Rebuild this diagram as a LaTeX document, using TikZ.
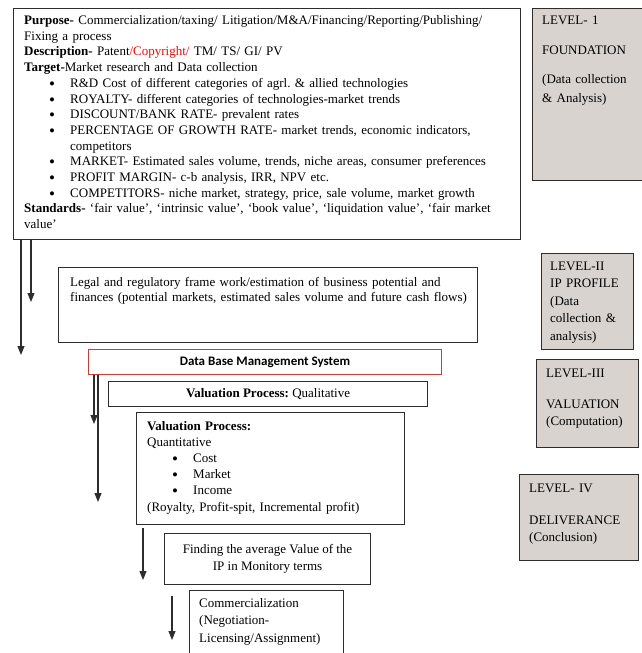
\documentclass[tikz,border=0pt]{standalone}
\usepackage{fontspec}
\setmainfont{Liberation Serif}
\newfontfamily\dbfont{Carlito}
\usetikzlibrary{arrows.meta}
\frenchspacing

\definecolor{lvlgray}{RGB}{216,211,207}
\definecolor{boxline}{RGB}{45,45,45}
\definecolor{dbred}{RGB}{226,52,44}

\tikzset{
  frame/.style={draw=boxline, line width=1.1pt, anchor=north west, inner sep=0pt},
  lvlbox/.style={frame, fill=lvlgray, line width=1.3pt},
  txt/.style={anchor=base west, inner sep=0pt, align=left, font=\fontsize{13}{15.7}\selectfont},
  flow/.style={-{Triangle[length=9pt,width=7pt]}, line width=1.1pt, draw=boxline}
}
\newcommand\itm[1]{\hspace*{25pt}\makebox[21pt][l]{\raisebox{-2pt}{\fontsize{17}{0}\selectfont\textbullet}}#1}

\begin{document}
\begin{tikzpicture}[x=1pt,y=-1pt]
\path[use as bounding box, fill=white] (0,0) rectangle (642,653);

% level I block
\node[frame, minimum width=507pt, minimum height=231pt] (found) at (13,8) {};
\node[txt, text width=500pt] (foundtxt) at (24,24.5) {%
\textbf{Purpose-} Commercialization/taxing/ Litigation/M\&A/Financing/Reporting/Publishing/\\
Fixing a process\\
\textbf{Description-} Patent\textcolor{red}{/Copyright/} TM/ TS/ GI/ PV\\
\textbf{Target-}Market research and Data collection\\
\itm{R\&D Cost of different categories of agrl. \& allied technologies}\\
\itm{ROYALTY- different categories of technologies-market trends}\\
\itm{DISCOUNT/BANK RATE- prevalent rates}\\
\itm{PERCENTAGE OF GROWTH RATE- market trends, economic indicators,}\\
\hspace*{46pt}competitors\\
\itm{MARKET- Estimated sales volume, trends, niche areas, consumer preferences}\\
\itm{PROFIT MARGIN- c-b analysis, IRR, NPV etc.}\\
\itm{COMPETITORS- niche market, strategy, price, sale volume, market growth}\\
\textbf{Standards-} `fair value', `intrinsic value', `book value', `liquidation value', `fair market\\
value'};

% level II block
\node[frame, minimum width=419pt, minimum height=75pt] (legal) at (58,267) {};
\node[txt, text width=410pt] (legaltxt) at (70,286) {%
Legal and regulatory frame work/estimation of business potential and\\
finances (potential markets, estimated sales volume and future cash flows)};

% level III block
\node[frame, draw=dbred, line width=1pt, minimum width=353pt, minimum height=25pt,
  font=\dbfont\bfseries\fontsize{13}{15}\selectfont] (dbms) at (88,349) {Data Base Management System};
\node[frame, minimum width=319pt, minimum height=25pt,
  font=\fontsize{13}{15.7}\selectfont] (qual) at (108,381) {\textbf{Valuation Process:} Qualitative};
\node[frame, minimum width=268pt, minimum height=112pt] (quant) at (136,412) {};
\node[txt, text width=255pt, font=\fontsize{13}{16.2}\selectfont] (quanttxt) at (147,430) {%
\textbf{Valuation Process:}\\
Quantitative\\
\itm{Cost}\\
\itm{Market}\\
\itm{Income}\\
(Royalty, Profit-spit, Incremental profit)};

% level IV block
\node[frame, minimum width=206pt, minimum height=51pt, align=center,
  font=\fontsize{13}{17}\selectfont] (avg) at (164,533) {Finding the average Value of the\\ IP in Monitory terms};
\node[frame, minimum width=154pt, minimum height=70pt] (comm) at (189,590) {};
\node[txt, text width=150pt, font=\fontsize{13}{17.5}\selectfont] (commtxt) at (199,607) {%
Commercialization\\
(Negotiation-\\
Licensing/Assignment)};

% level labels
\node[lvlbox, minimum width=115pt, minimum height=172pt] (lvl1) at (532,8) {};
\node[txt, text width=100pt, font=\fontsize{13}{19}\selectfont] (lvl1txt) at (542,24) {%
LEVEL- 1\\[11pt]
FOUNDATION\\[10pt]
(Data collection\\
\& Analysis)};
\node[lvlbox, minimum width=92pt, minimum height=96pt] (lvl2) at (541,253) {};
\node[txt, text width=80pt, font=\fontsize{13}{17.5}\selectfont] (lvl2txt) at (550,270) {%
LEVEL-II\\
IP PROFILE\\
(Data\\
collection \&\\
analysis)};
\node[lvlbox, minimum width=102pt, minimum height=88pt] (lvl3) at (536,359) {};
\node[txt, text width=90pt, font=\fontsize{13}{17}\selectfont] (lvl3txt) at (546,377) {%
LEVEL-III\\[14pt]
VALUATION\\
(Computation)};
\node[lvlbox, minimum width=119pt, minimum height=86pt] (lvl4) at (519,474) {};
\node[txt, text width=105pt, font=\fontsize{13}{17}\selectfont] (lvl4txt) at (529,492) {%
LEVEL- IV\\[15pt]
DELIVERANCE\\
(Conclusion)};

% arrow ends
\coordinate (t1) at (31,302);
\coordinate (t2) at (21,355);
\coordinate (d1) at (94,424);
\coordinate (d2) at (98,502);
\coordinate (q1) at (143,580);
\coordinate (f1) at (172,640);

\draw[flow] (found.south -| t1) -- (t1);
\draw[flow] (found.south -| t2) -- (t2);
\draw[flow] (dbms.south -| d1) -- (d1);
\draw[flow] (dbms.south -| d2) -- (d2);
\draw[flow, shorten <=3pt] (quant.south -| q1) -- (q1);
\draw[flow, shorten <=11pt] (avg.south -| f1) -- (f1);
\end{tikzpicture}
\end{document}
